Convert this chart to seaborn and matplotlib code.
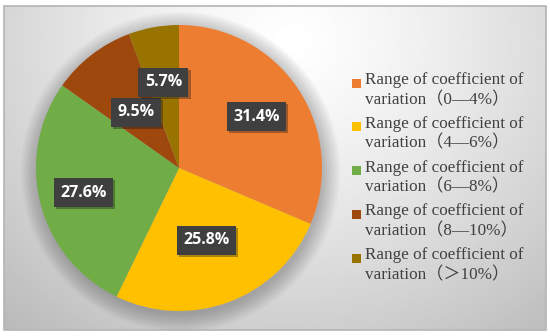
import numpy as np
import seaborn as sns
import matplotlib.pyplot as plt
import matplotlib.patheffects as pe
from matplotlib.patches import Rectangle, Circle

# share of each coefficient-of-variation range
ranges = ["0—4%", "4—6%", "6—8%", "8—10%", "＞10%"]
shares = [31.4, 25.8, 27.6, 9.5, 5.7]
colors = ["#ED7D31", "#FFC000", "#70AD47", "#9E480E", "#997300"]
labels = ["Range of coefficient of\nvariation（" + r + "）" for r in ranges]

sns.set_theme(style="white")

W, H = 550, 336
fig = plt.figure(figsize=(5.5, 3.36), dpi=100)

# background: radial grey gradient inside a thin frame
bg = fig.add_axes([0, 0, 1, 1])
bg.set_xlim(0, W)
bg.set_ylim(H, 0)
bg.axis("off")
yy, xx = np.mgrid[0:H, 0:W]
d = np.hypot(xx - 290, (yy - 35) * 1.1) / 420
shade = np.clip(1 - 0.26 * d ** 1.3, 0, 1)
bg.imshow(shade, cmap="gray", vmin=0, vmax=1, extent=(4, 546, 330, 6), aspect="auto")
bg.add_patch(Rectangle((4, 6), 542, 324, fill=False, ec="#b4b4b4", lw=1.2))

# pie: centre (179,168) px, radius 143 px
cx, cy, R = 179, 168, 143
ax = fig.add_axes([(cx - R) / W, (H - cy - R) / H, 2 * R / W, 2 * R / H])
ax.set_facecolor("none")

# soft shadow around the pie
for k in range(14):
    ax.add_patch(Circle((0.01, -0.025), 1 + 0.009 * k, color="k", alpha=0.018, lw=0, clip_on=False))

wedges, texts, autotexts = ax.pie(
    shares, colors=colors, startangle=90, counterclock=False,
    autopct="%.1f%%", pctdistance=0.62,
    wedgeprops=dict(lw=0),
    textprops=dict(color="white", fontsize=11.5, fontweight="bold", family="Open Sans"),
)
ax.set_xlim(-1, 1)
ax.set_ylim(-1, 1)
ax.set_aspect("auto")

# excel "best fit" places labels at different radii
label_r = [0.65, 0.54, 0.69, 0.49, 0.61]
for w, t, r in zip(wedges, autotexts, label_r):
    ang = np.deg2rad((w.theta1 + w.theta2) / 2)
    t.set_position((r * np.cos(ang), r * np.sin(ang)))
    t.set_bbox(dict(boxstyle="square,pad=0.4", fc="#3f3f3f", ec="none"))
    t.get_bbox_patch().set_path_effects([pe.withSimplePatchShadow(offset=(1.5, -1.5), alpha=0.35)])

# legend drawn by hand so the square lines up with the first text line
for i, (lab, c) in enumerate(zip(labels, colors)):
    y = 83 + i * 43.8
    bg.add_patch(Rectangle((352, y - 4.5), 9, 9, fc=c, ec="none"))
    bg.text(365, y - 11, lab, ha="left", va="top", fontsize=12.3, color="#404040",
            family=["Liberation Serif", "Noto Sans CJK SC"], linespacing=1.3,
            transform=bg.transData)

plt.savefig("out.png", dpi=100)
